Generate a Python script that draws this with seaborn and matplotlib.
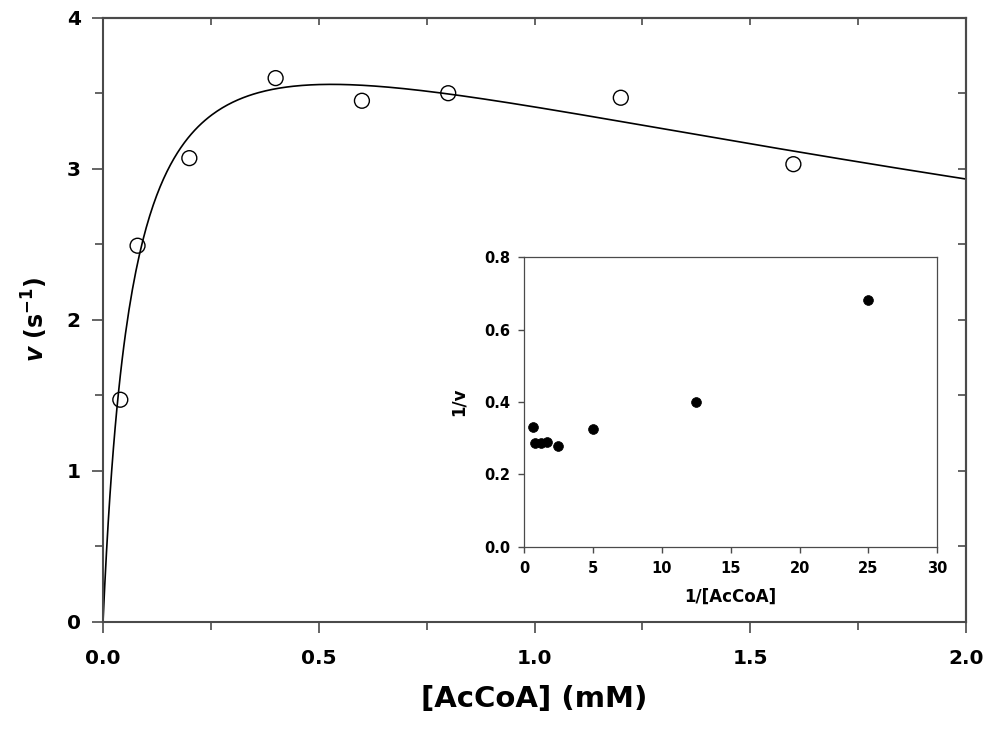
import numpy as np
import matplotlib
matplotlib.use('Agg')
import matplotlib.pyplot as plt
import matplotlib.ticker as ticker
import seaborn as sns

# Measured rates
accoa = [0.04, 0.08, 0.2, 0.4, 0.6, 0.8, 1.2, 1.6]
rate = [1.47, 2.49, 3.07, 3.60, 3.45, 3.50, 3.47, 3.03]

# Double reciprocal (inset)
inv_accoa = [25.0, 12.5, 5.0, 2.5, 1.667, 1.25, 0.833, 0.625]
inv_rate = [0.681, 0.401, 0.325, 0.278, 0.290, 0.286, 0.288, 0.331]

# Substrate inhibition fit: v = Vmax*S / (Km + S + S^2/Ki)
vmax, km, ki = 4.5, 0.07, 4.0

sns.set_style('ticks')
plt.rcParams['font.family'] = ['DejaVu Sans']
plt.rcParams['font.weight'] = 'bold'
plt.rcParams['text.color'] = 'black'
plt.rcParams['axes.labelcolor'] = 'black'
plt.rcParams['xtick.labelcolor'] = 'black'
plt.rcParams['ytick.labelcolor'] = 'black'
plt.rcParams['mathtext.fontset'] = 'custom'
plt.rcParams['mathtext.rm'] = 'DejaVu Sans:bold'
plt.rcParams['mathtext.it'] = 'DejaVu Sans:bold:italic'
plt.rcParams['mathtext.bf'] = 'DejaVu Sans:bold'

spine_col = '#4a4a4a'

fig = plt.figure(figsize=(9.87, 7.29), dpi=100)
ax = fig.add_axes([0.1044, 0.1472, 0.8743, 0.8285])

s_fit = np.linspace(0, 2, 500)
v_fit = vmax * s_fit / (km + s_fit + s_fit ** 2 / ki)
sns.lineplot(x=s_fit, y=v_fit, ax=ax, color='black', linewidth=1.2)
sns.scatterplot(x=accoa, y=rate, ax=ax, s=115, facecolor='none',
                edgecolor='black', linewidth=1.0, zorder=3)

ax.set_xlim(0, 2.0)
ax.set_ylim(0, 4)
ax.xaxis.set_major_locator(ticker.MultipleLocator(0.5))
ax.xaxis.set_minor_locator(ticker.MultipleLocator(0.25))
ax.yaxis.set_major_locator(ticker.MultipleLocator(1))
ax.yaxis.set_minor_locator(ticker.MultipleLocator(0.5))
ax.xaxis.set_major_formatter(ticker.FormatStrFormatter('%.1f'))
ax.tick_params(which='major', direction='out', length=8, width=1.2,
               color=spine_col, labelsize=14.5, pad=12)
ax.tick_params(which='minor', direction='out', length=6, width=1.2,
               color=spine_col)
ax.tick_params(axis='y', which='major', pad=8)
for sp in ax.spines.values():
    sp.set_color(spine_col)
    sp.set_linewidth(1.5)

# inward ticks on top and right
top = ax.secondary_xaxis('top')
top.set_xticks(np.arange(0, 2.01, 0.25))
top.xaxis.set_major_formatter(ticker.NullFormatter())
top.tick_params(direction='in', length=5, width=1.2, color=spine_col)
top.spines['top'].set_color(spine_col)
top.spines['top'].set_linewidth(1.5)
right = ax.secondary_yaxis('right')
right.set_yticks(np.arange(0, 4.01, 0.5))
right.yaxis.set_major_formatter(ticker.NullFormatter())
right.tick_params(direction='in', length=6, width=1.2, color=spine_col)
right.spines['right'].set_color(spine_col)
right.spines['right'].set_linewidth(1.5)

ax.set_xlabel('[AcCoA] (mM)', fontsize=21, fontweight='bold', labelpad=12)
ax.set_ylabel(r'$v$ (s$^{-1}$)', fontsize=17, fontweight='bold', labelpad=12)

# inset: double reciprocal plot
ins = fig.add_axes([0.5309, 0.2501, 0.4188, 0.3969])
ins.set_facecolor('white')
sns.scatterplot(x=inv_accoa, y=inv_rate, ax=ins, s=50, color='black',
                edgecolor='black', linewidth=0.5, zorder=3)
ins.set_xlim(0, 30)
ins.set_ylim(0, 0.8)
ins.xaxis.set_major_locator(ticker.MultipleLocator(5))
ins.yaxis.set_major_locator(ticker.MultipleLocator(0.2))
ins.yaxis.set_major_formatter(ticker.FormatStrFormatter('%.1f'))
ins.tick_params(direction='out', length=4, width=1.0, color=spine_col,
                labelsize=10.5, pad=6)
for sp in ins.spines.values():
    sp.set_color(spine_col)
    sp.set_linewidth(0.9)
ins.set_xlabel('1/[AcCoA]', fontsize=12, fontweight='bold', labelpad=9)
ins.set_ylabel('1/v', fontsize=12, fontweight='bold', labelpad=12)

plt.savefig('out.png', dpi=100, facecolor='white')
